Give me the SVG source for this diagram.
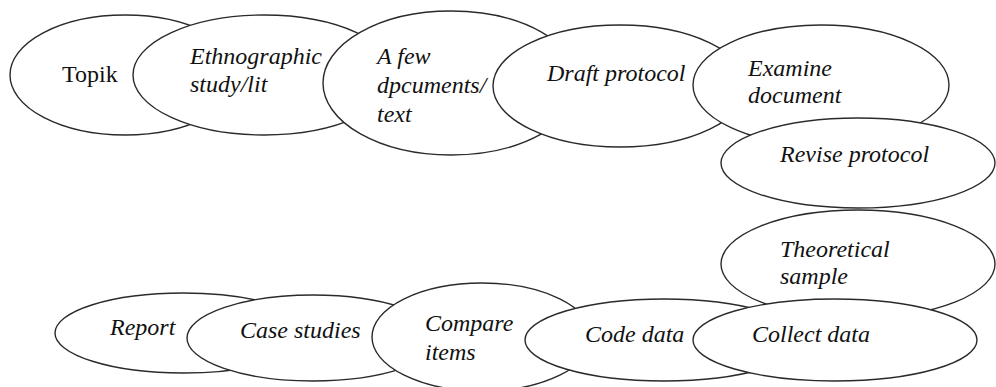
<svg xmlns="http://www.w3.org/2000/svg" width="996" height="387" viewBox="0 0 996 387">
<style>
.n ellipse{fill:#fff;stroke:#2a2a2a;stroke-width:1.4}
.n text{font-size:24px;font-style:italic;fill:#111}
#topik text{font-style:normal}
</style>
<rect width="996" height="387" fill="#fff"/>
<g id="connectors"></g>
<g font-family="Liberation Serif, serif">
<g id="topik" class="n"><ellipse cx="125" cy="75" rx="115" ry="60"/><text x="62" y="82">Topik</text></g>
<g id="ethno" class="n"><ellipse cx="264" cy="75" rx="131" ry="60"/><text x="190" y="64">Ethnographic</text><text x="190" y="92">study/lit</text></g>
<g id="afew" class="n"><ellipse cx="451" cy="83" rx="128" ry="72"/><text x="377" y="64">A few</text><text x="377" y="93">dpcuments/</text><text x="377" y="122">text</text></g>
<g id="draft" class="n"><ellipse cx="620" cy="86" rx="127" ry="61"/><text x="547" y="81">Draft protocol</text></g>
<g id="examine" class="n"><ellipse cx="821" cy="85" rx="128" ry="60"/><text x="748" y="76">Examine</text><text x="748" y="103">document</text></g>
<g id="revise" class="n"><ellipse cx="858" cy="163" rx="137" ry="45"/><text x="780" y="162">Revise protocol</text></g>
<g id="theoretical" class="n"><ellipse cx="858" cy="264" rx="137" ry="54"/><text x="780" y="257">Theoretical</text><text x="780" y="284">sample</text></g>
<g id="report" class="n"><ellipse cx="183" cy="333" rx="128" ry="40"/><text x="110" y="335">Report</text></g>
<g id="case" class="n"><ellipse cx="313" cy="338" rx="126" ry="43"/><text x="240" y="338">Case studies</text></g>
<g id="compare" class="n"><ellipse cx="482" cy="337" rx="110" ry="54"/><text x="425" y="331">Compare</text><text x="425" y="360">items</text></g>
<g id="code" class="n"><ellipse cx="664" cy="340" rx="139" ry="41"/><text x="585" y="342">Code data</text></g>
<g id="collect" class="n"><ellipse cx="835" cy="340" rx="142" ry="41"/><text x="752" y="342">Collect data</text></g>
</g>
</svg>
